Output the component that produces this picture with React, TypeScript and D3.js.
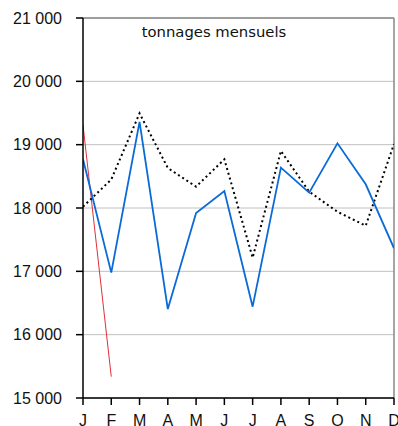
import React from "react";
import * as d3 from "d3";

const months = ["J", "F", "M", "A", "M", "J", "J", "A", "S", "O", "N", "D"];
const blueValues = [18770, 16980, 19360, 16405, 17920, 18268, 16442, 18637, 18242, 19021, 18374, 17363];
const dottedValues = [18021, 18450, 19495, 18632, 18337, 18769, 17216, 18900, 18258, 17940, 17720, 19010];
const redValues = [19310, 15337];
const yTicks = [15000, 16000, 17000, 18000, 19000, 20000, 21000];
const title = "tonnages mensuels";

const W = 398, H = 426;
const left = 83, right = 394, top = 18, bottom = 398;

export default function App() {
  const x = d3.scaleLinear().domain([0, 11]).range([left, right]);
  const y = d3.scaleLinear().domain([15000, 21000]).range([bottom, top]);
  const line = d3.line<number>().x((_, i) => x(i)).y((d) => y(d));
  const fmt = (v: number) => d3.format(",")(v).replace(",", " ");
  return (
    <svg width={W} height={H} style={{ position: "absolute", left: 0, top: 0, background: "#fff" }}>
      <defs>
        <clipPath id="plot">
          <rect x={left} y={top} width={right - left} height={bottom - top} />
        </clipPath>
      </defs>
      {yTicks.map((t) => (
        <line key={t} x1={left} x2={right} y1={y(t)} y2={y(t)} stroke="#c0c0c0" strokeWidth={1} />
      ))}
      <line x1={left} x2={right} y1={top} y2={top} stroke="#888" strokeWidth={1.5} />
      <line x1={right} x2={right} y1={top} y2={bottom} stroke="#888" strokeWidth={1.5} />
      <g clipPath="url(#plot)">
        <path d={line(redValues) || ""} fill="none" stroke="#e0303a" strokeWidth={1} />
        <path d={line(dottedValues) || ""} fill="none" stroke="#000" strokeWidth={2} strokeDasharray="2,3" />
        <path d={line(blueValues) || ""} fill="none" stroke="#0a6ad8" strokeWidth={1.8} />
      </g>
      <line x1={left} x2={left} y1={top} y2={bottom} stroke="#000" strokeWidth={1.5} />
      <line x1={left} x2={right} y1={bottom} y2={bottom} stroke="#000" strokeWidth={1.5} />
      {yTicks.map((t) => (
        <g key={"yt" + t}>
          <line x1={left - 7} x2={left} y1={y(t)} y2={y(t)} stroke="#000" strokeWidth={1.5} />
          <text x={62} y={y(t)} dy="0.36em" textAnchor="end" fontFamily="Liberation Sans, Arial, sans-serif" fontSize={16} fill="#111">
            {fmt(t)}
          </text>
        </g>
      ))}
      {months.map((m, i) => (
        <g key={"xt" + i}>
          <line x1={x(i)} x2={x(i)} y1={bottom} y2={bottom + 7} stroke="#000" strokeWidth={1.5} />
          <text x={x(i)} y={425.5} textAnchor="middle" fontFamily="Liberation Sans, Arial, sans-serif" fontSize={16} fill="#111">
            {m}
          </text>
        </g>
      ))}
      <text x={214} y={37} textAnchor="middle" fontFamily="DejaVu Sans, Verdana, sans-serif" fontSize={14.8} fill="#111">
        {title}
      </text>
    </svg>
  );
}
